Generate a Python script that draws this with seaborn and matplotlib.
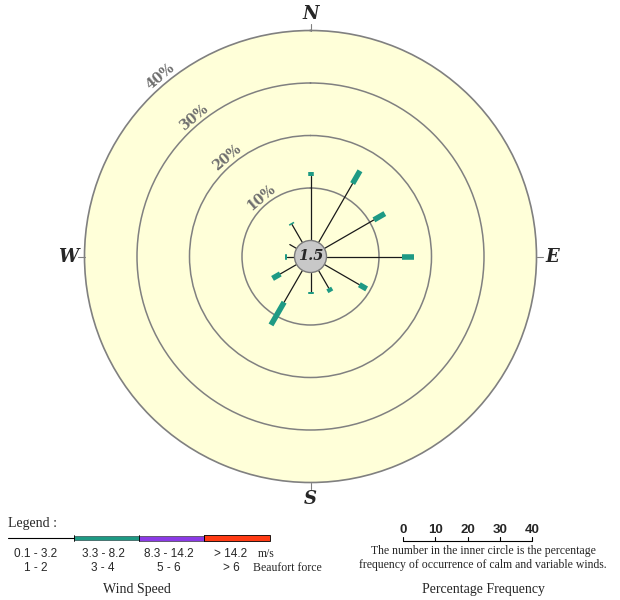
import numpy as np
import pandas as pd
import matplotlib
matplotlib.use("Agg")
import matplotlib.pyplot as plt
import seaborn as sns
from matplotlib.patches import Circle, Rectangle

# wind direction (deg from north) and % frequency per speed class
directions = [0, 30, 60, 90, 120, 150, 180, 210, 240, 270, 300, 330]
light_pct = [12.2, 13.0, 10.9, 14.4, 7.7, 3.9, 3.8, 7.0, 3.6, 1.5, 1.5, 4.0]   # 0.1 - 3.2 m/s
moderate_pct = [0.9, 2.8, 2.4, 2.3, 1.6, 0.8, 0.3, 5.0, 1.7, 0.3, 0.0, 0.3]   # 3.3 - 8.2 m/s
calm_pct = 1.5
ring_levels = [10, 20, 30, 40]
compass = ["N", "E", "S", "W"]
compass_deg = [0, 90, 180, 270]

speed_ms = ["0.1 - 3.2", "3.3 - 8.2", "8.3 - 14.2", "> 14.2"]
speed_bf = ["1 - 2", "3 - 4", "5 - 6", "> 6"]
scale_ticks = [0, 10, 20, 30, 40]

SERIF = "Liberation Serif"
SANS = "Liberation Sans"
TEAL = "#1e9a84"
PURPLE = "#8b3ae6"
RED = "#ff3b14"
GRID = "#808080"

sns.set_style("white")

W, H = 620, 600
fig = plt.figure(figsize=(W / 100, H / 100), dpi=100)

# overlay in pixel coords for the legend / scale parts
lax = fig.add_axes([0, 0, 1, 1])
lax.set_xlim(0, W)
lax.set_ylim(H, 0)
lax.axis("off")

# rose
cx, cy, R, calm_px = 310.5, 256.5, 226, 16
ax = fig.add_axes([(cx - R) / W, (H - cy - R) / H, 2 * R / W, 2 * R / H], projection="polar")
ax.set_theta_zero_location("N")
ax.set_theta_direction(-1)
calm_r = calm_px * 40 / (R - calm_px)
ax.set_rorigin(-calm_r)
ax.set_facecolor("#ffffd9")

theta = np.deg2rad(directions)
light = np.array(light_pct)
moder = np.array(moderate_pct)
seg_light = pd.DataFrame({
    "dir": np.repeat(directions, 2),
    "theta": np.repeat(theta, 2),
    "r": np.column_stack([np.zeros_like(light), light]).ravel(),
})
seg_mod = pd.DataFrame({
    "dir": np.repeat(directions, 2),
    "theta": np.repeat(theta, 2),
    "r": np.column_stack([light, light + moder]).ravel(),
})
sns.lineplot(data=seg_light, x="theta", y="r", units="dir", estimator=None, sort=False,
             color="#1a1a1a", linewidth=0.9, ax=ax)
sns.lineplot(data=seg_mod, x="theta", y="r", units="dir", estimator=None, sort=False,
             color=TEAL, linewidth=4.0, solid_capstyle="butt", ax=ax)

ax.set_ylim(0, 40)
ax.set_xticks([])
ax.set_yticks(ring_levels[:-1])
ax.set_yticklabels([])
ax.yaxis.grid(True, color=GRID, linewidth=1.1)
ax.set_xlabel("")
ax.set_ylabel("")
ax.spines["polar"].set_color(GRID)
ax.spines["polar"].set_linewidth(1.2)
ax.spines["inner"].set_linewidth(0)

for lvl in ring_levels:
    ax.text(np.deg2rad(320), lvl + 1.6, f"{lvl}%", rotation=40, ha="center", va="center",
            color="#6e6e6e", fontsize=10, fontweight="bold", family="DejaVu Serif",
            clip_on=False)

for lab, deg in zip(compass, compass_deg):
    t = np.deg2rad(deg)
    ax.plot([t, t], [40, 41.2], color=GRID, lw=0.8, clip_on=False)
    ax.text(t, 43.1, lab, ha="center", va="center", fontsize=13, fontweight="bold",
            fontstyle="italic", family="DejaVu Serif", clip_on=False)

ax.add_artist(Circle((0.5, 0.5), calm_px / (2 * R), transform=ax.transAxes,
                     facecolor="#c8c8c8", edgecolor="#7a7a7a", lw=1, zorder=5, clip_on=False))
ax.text(0.5, 0.5, f"{calm_pct}", transform=ax.transAxes, ha="center", va="center",
        fontsize=10.5, fontweight="bold", fontstyle="italic", family="DejaVu Serif", zorder=6)

# legend: wind speed classes
lax.text(8, 523, "Legend :", ha="left", va="center", fontsize=10, family=SERIF)
lax.plot([8, 74], [538, 538], color="black", lw=0.8)
lax.add_patch(Rectangle((74, 536.3), 65, 3.4, facecolor=TEAL, edgecolor="#305050", lw=0.5))
lax.add_patch(Rectangle((139, 535.5), 65, 5, facecolor=PURPLE, edgecolor="#404040", lw=0.5))
lax.add_patch(Rectangle((204, 535), 66, 6, facecolor=RED, edgecolor="black", lw=0.6))
for x in [74, 139, 204]:
    lax.plot([x, x], [535, 541], color="black", lw=0.6)
for x, a, b in zip([36, 103, 169, 231], speed_ms, speed_bf):
    lax.text(x, 554, a, ha="center", va="center", fontsize=8.5, family=SANS)
    lax.text(x, 568, b, ha="center", va="center", fontsize=8.5, family=SANS)
lax.text(258, 554, "m/s", ha="left", va="center", fontsize=8.5, family=SERIF)
lax.text(253, 568, "Beaufort force", ha="left", va="center", fontsize=8.5, family=SERIF)
lax.text(137, 590, "Wind Speed", ha="center", va="center", fontsize=10, family=SERIF)

# percentage frequency scale
x0, x1 = 403, 532
lax.plot([x0, x1], [541, 541], color="black", lw=0.8)
for v in scale_ticks:
    x = x0 + v * (x1 - x0) / scale_ticks[-1]
    lax.plot([x, x], [541, 537], color="black", lw=0.8)
    lax.text(x, 530, str(v), ha="center", va="center", fontsize=9.5, fontweight="bold",
             family=SANS)
lax.text(483, 551, "The number in the inner circle is the percentage", ha="center", va="center",
         fontsize=8.5, family=SERIF)
lax.text(483, 565, "frequency of occurrence of calm and variable winds.", ha="center", va="center",
         fontsize=8.5, family=SERIF)
lax.text(483, 590, "Percentage Frequency", ha="center", va="center", fontsize=10, family=SERIF)

fig.savefig("out.png", dpi=100)
